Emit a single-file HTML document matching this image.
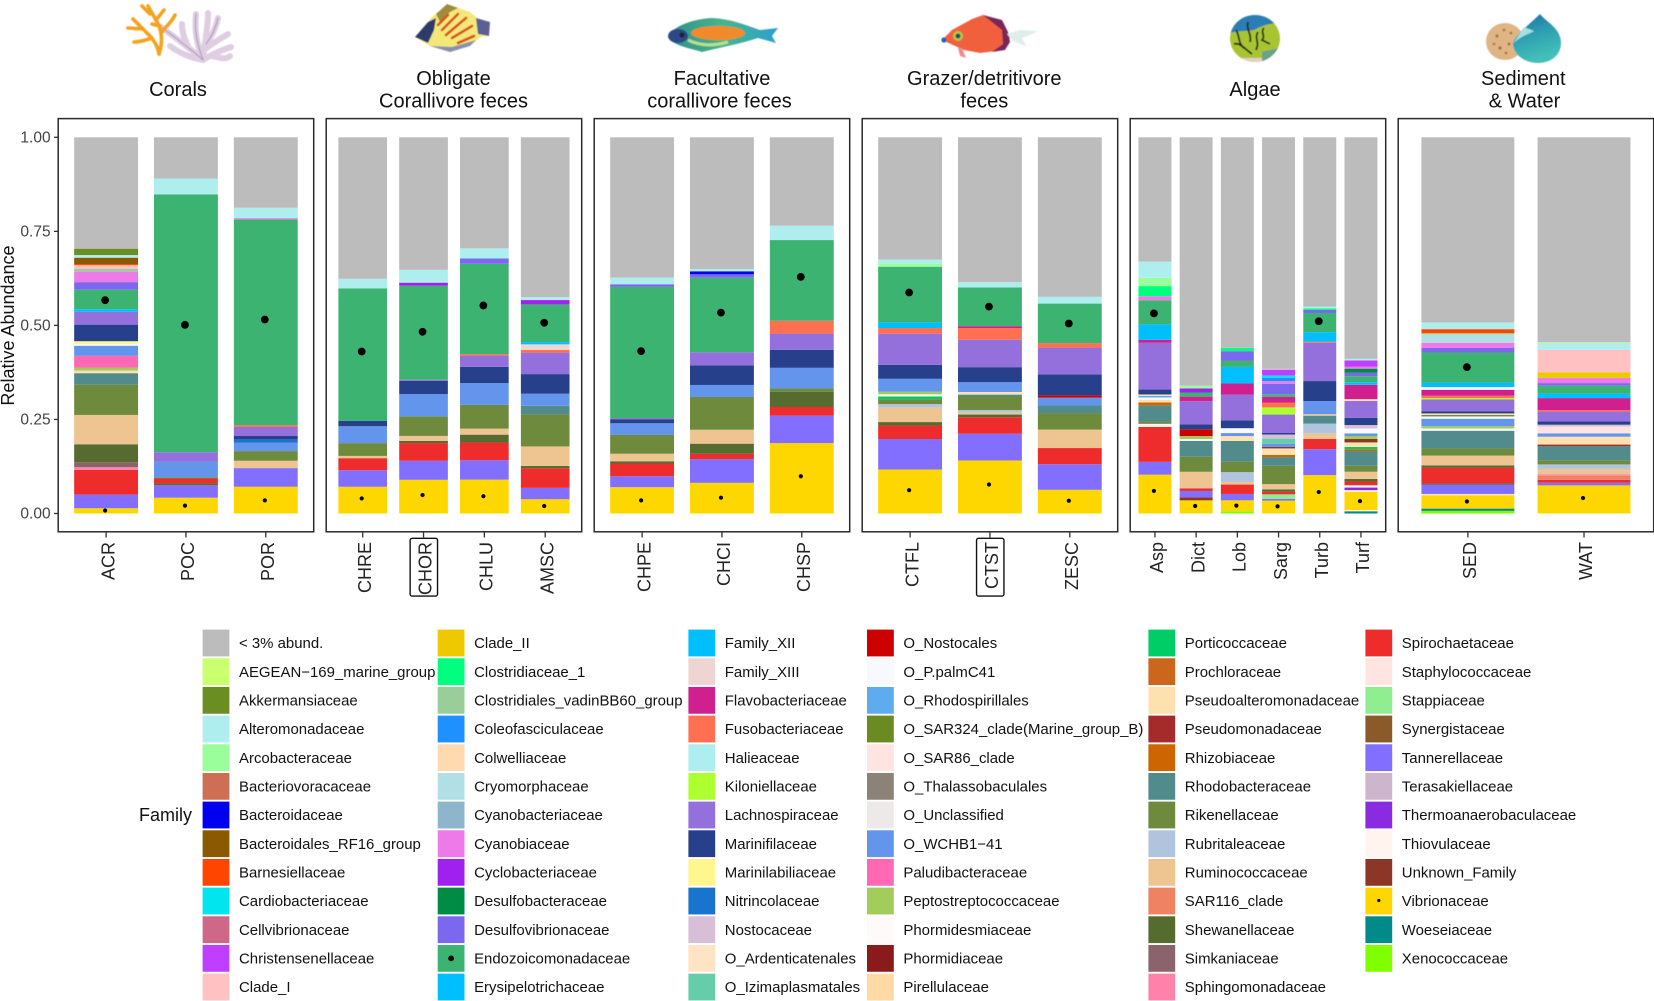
<!DOCTYPE html>
<html lang="en">
<head>
<meta charset="utf-8">
<title>Relative abundance of bacterial families</title>
<style>
html,body{margin:0;padding:0;background:#fff;}
svg{display:block;font-family:"Liberation Sans",Arial,sans-serif;}
</style>
</head>
<body>
<svg id="chart" xmlns="http://www.w3.org/2000/svg" width="1654" height="1001" viewBox="0 0 1654 1001">
<defs>
<linearGradient id="waterGrad" x1="0" y1="0" x2="0.3" y2="1"><stop offset="0" stop-color="#1c6aa6"/><stop offset="0.45" stop-color="#2b9cb0"/><stop offset="1" stop-color="#43c1b8"/></linearGradient>
<linearGradient id="parrotGrad" x1="0" y1="0" x2="1" y2="0"><stop offset="0" stop-color="#2f8f8a"/><stop offset="0.5" stop-color="#49b48c"/><stop offset="1" stop-color="#2aa0d0"/></linearGradient>
<filter id="soft"><feGaussianBlur stdDeviation="0.6"/></filter>
<clipPath id="algaeClip"><ellipse cx="1255" cy="38.5" rx="25" ry="23.5"/></clipPath>
</defs>

<g filter="url(#soft)" fill="none" stroke-linecap="round">
  <g stroke="#dfcde2" stroke-width="6">
    <path d="M203 60C198 46 194 34 196 14"/>
    <path d="M203 60C204 44 208 30 208 13"/>
    <path d="M203 60C192 50 176 38 161 27"/>
    <path d="M203 60C212 54 222 50 231 47"/>
    <path d="M206 44C212 36 216 28 218 18"/>
    <path d="M203 60C190 58 178 52 170 46"/>
    <path d="M204 50C214 42 222 38 228 34"/>
    <path d="M188 46C184 38 182 32 182 24"/>
    <path d="M212 56C220 58 226 60 230 56"/>
  </g>
  <g stroke="#a993b5" stroke-width="1">
    <path d="M203 60C198 46 194 34 196 14"/>
    <path d="M203 60C192 50 176 38 161 27"/>
    <path d="M206 44C212 36 216 28 218 18"/>
  </g>
  <g stroke="#f4a21e" stroke-width="3.6">
    <path d="M159 54C157 42 150 36 143 29L128 28"/>
    <path d="M143 29L133 19"/>
    <path d="M159 54C163 42 162 30 156 20L148 6"/>
    <path d="M156 20L164 10"/>
    <path d="M162 32C166 26 172 22 175 15"/>
    <path d="M152 38C146 40 140 42 134 42"/>
    <path d="M150 14L142 6"/>
    <path d="M160 26L152 24"/>
  </g>
</g>

<g filter="url(#soft)">
  <path d="M415 37L432 17L447 5L456 7L470 12L484 24L490 22L489 36L482 36L470 46L450 52L430 46Z" fill="#f3e878"/>
  <path d="M415 37L428 22L436 18L434 30L428 43Z" fill="#2d3a6a"/>
  <path d="M436 14L447 4L458 8L450 12L440 22Z" fill="#a08c3e"/>
  <path d="M476 18L490 22L489 36L478 34Z" fill="#5a6096"/>
  <path d="M430 46L450 52L470 46L476 40L452 47Z" fill="#8a8fb0"/>
  <g stroke="#d8501c" stroke-width="2.6" fill="none" stroke-linecap="round">
    <path d="M442 30L458 14"/><path d="M446 35L466 18"/><path d="M452 38L472 26"/><path d="M458 43L474 36"/><path d="M438 25L448 15"/>
  </g>
</g>

<g filter="url(#soft)">
  <path d="M668 36C672 28 690 19 712 18C732 19 748 26 760 30L778 28L772 36L776 43L758 38C740 44 722 47 702 52C690 48 672 46 668 36Z" fill="url(#parrotGrad)"/>
  <ellipse cx="718" cy="33" rx="27" ry="7" fill="#f28a2c"/>
  <ellipse cx="678" cy="36" rx="10" ry="7" fill="#2c4a86"/>
  <circle cx="682" cy="35" r="2.5" fill="#222"/>
  <path d="M688 40C700 46 714 46 728 42" stroke="#b7e08c" stroke-width="3" fill="none"/>
</g>

<g filter="url(#soft)">
  <path d="M942 40L952 30L972 19L983 15L1004 24L1010 38L1004 50L980 53L964 50Z" fill="#f0613c"/>
  <path d="M983 15L1002 20L1008 32L1010 42L1005 50L992 52L1003 44L1002 30Z" fill="#7a2858"/>
  <path d="M1007 34L1020 30L1038 31L1030 35L1022 38L1026 46L1020 44L1012 40Z" fill="#dfeee8"/>
  <circle cx="958" cy="36" r="5" fill="#b8c43a"/>
  <circle cx="958" cy="36" r="2.4" fill="#124a70"/>
  <path d="M962 48L966 58L960 56L958 48Z" fill="#e9908e"/>
  <circle cx="944" cy="40" r="2.6" fill="#1d63b0"/>
</g>

<g filter="url(#soft)">
  <g clip-path="url(#algaeClip)">
    <rect x="1228" y="14" width="54" height="50" fill="#a9c433"/>
    <path d="M1228 14H1282V24C1270 22 1262 26 1254 30C1244 32 1236 30 1228 34Z" fill="#2b7eb5"/>
    <path d="M1262 52C1266 50 1276 50 1282 46V64H1262Z" fill="#6ba38a"/>
    <path d="M1240 58H1262V64H1240Z" fill="#e4cfc8"/>
    <g stroke="#23281c" stroke-width="1.8" fill="none">
      <path d="M1236 30C1240 36 1238 44 1244 48"/>
      <path d="M1248 22C1246 30 1252 34 1250 42"/>
      <path d="M1258 32C1254 38 1260 42 1256 50"/>
      <path d="M1264 28C1260 32 1266 36 1262 40L1270 44"/>
      <path d="M1234 44C1240 42 1246 50 1252 54"/>
    </g>
  </g>
</g>

<g filter="url(#soft)">
  <ellipse cx="1505" cy="41.5" rx="19" ry="18.5" fill="#deb583"/>
  <g fill="#a9763d">
    <circle cx="1497" cy="36" r="1.6"/><circle cx="1504" cy="30" r="1.4"/><circle cx="1500" cy="48" r="1.7"/><circle cx="1509" cy="44" r="1.5"/><circle cx="1494" cy="44" r="1.3"/><circle cx="1511" cy="33" r="1.4"/><circle cx="1506" cy="53" r="1.4"/>
  </g>
  <path d="M1540 14C1546 22 1561 28 1561 43C1561 55 1551 63 1538 63C1524 63 1513 54 1513 43C1516 34 1530 24 1540 14Z" fill="url(#waterGrad)"/>
  <path d="M1513 44C1520 36 1530 34 1534 31L1524 27L1518 36Z" fill="#a3e0e2"/>
</g>

<g font-size="20" fill="#111" text-anchor="middle" dominant-baseline="central">
  <text x="178" y="90">Corals</text>
  <text x="453.5" y="79">Obligate</text>
  <text x="453.5" y="101.7">Corallivore feces</text>
  <text x="722" y="79">Facultative</text>
  <text x="719.5" y="101.7">corallivore feces</text>
  <text x="984.3" y="79">Grazer/detritivore</text>
  <text x="984.3" y="101.7">feces</text>
  <text x="1255" y="90">Algae</text>
  <text x="1523.3" y="79">Sediment</text>
  <text x="1524.5" y="101.7">&amp; Water</text>
</g>

<text x="14" y="325.5" font-size="18" fill="#111" text-anchor="middle" transform="rotate(-90 14 325.5)">Relative Abundance</text>
<text x="139" y="815" font-size="18" fill="#111" dominant-baseline="central">Family</text>

<g id="plot"></g>
<g id="legend"></g>
</svg>

<script>
// ---------- legend categories ----------
const familyNames = ["< 3% abund.","AEGEAN\u2212169_marine_group","Akkermansiaceae","Alteromonadaceae","Arcobacteraceae","Bacteriovoracaceae","Bacteroidaceae","Bacteroidales_RF16_group","Barnesiellaceae","Cardiobacteriaceae","Cellvibrionaceae","Christensenellaceae","Clade_I",
"Clade_II","Clostridiaceae_1","Clostridiales_vadinBB60_group","Coleofasciculaceae","Colwelliaceae","Cryomorphaceae","Cyanobacteriaceae","Cyanobiaceae","Cyclobacteriaceae","Desulfobacteraceae","Desulfovibrionaceae","Endozoicomonadaceae","Erysipelotrichaceae",
"Family_XII","Family_XIII","Flavobacteriaceae","Fusobacteriaceae","Halieaceae","Kiloniellaceae","Lachnospiraceae","Marinifilaceae","Marinilabiliaceae","Nitrincolaceae","Nostocaceae","O_Ardenticatenales","O_Izimaplasmatales",
"O_Nostocales","O_P.palmC41","O_Rhodospirillales","O_SAR324_clade(Marine_group_B)","O_SAR86_clade","O_Thalassobaculales","O_Unclassified","O_WCHB1\u221241","Paludibacteraceae","Peptostreptococcaceae","Phormidesmiaceae","Phormidiaceae","Pirellulaceae",
"Porticoccaceae","Prochloraceae","Pseudoalteromonadaceae","Pseudomonadaceae","Rhizobiaceae","Rhodobacteraceae","Rikenellaceae","Rubritaleaceae","Ruminococcaceae","SAR116_clade","Shewanellaceae","Simkaniaceae","Sphingomonadaceae",
"Spirochaetaceae","Staphylococcaceae","Stappiaceae","Synergistaceae","Tannerellaceae","Terasakiellaceae","Thermoanaerobaculaceae","Thiovulaceae","Unknown_Family","Vibrionaceae","Woeseiaceae","Xenococcaceae"];

const familyCodes = ["lt3","aeg","akk","alt","arc","bvo","bac","brf","bar","car","cel","chr","cl1",
"cl2","cst","cvd","cof","col","cry","cyb","cyn","cyc","dbc","dvb","end","ery",
"fx2","fx3","fla","fus","hal","kil","lac","mfl","mlb","nit","nos","oar","oiz",
"ono","opa","orh","o32","o86","oth","oun","owc","pal","pep","phd","phm","pir",
"por","prc","pse","pmo","rhi","rho","rik","rub","rum","s11","she","sim","sph",
"spi","sta","stp","syn","tan","ter","the","thi","unk","vib","woe","xen"];

const familyColors = ["#BCBCBC","#CAFF70","#6B8E23","#AEEEEE","#9AFF9A","#CD6F55","#0000EE","#8B5A00","#FF4500","#00E5EE","#CD6889","#BF3EFF","#FFC1C1",
"#EEC900","#00FF7F","#9BCD9B","#1E90FF","#FFDAB0","#B0E0E6","#8DB6CD","#EE7AE9","#A020F0","#008B45","#7B68EE","#3CB371","#00BFFF",
"#00BFFF","#EED5D2","#D02090","#FF6F50","#AEEEEE","#ADFF2F","#9370DB","#27408B","#FFF68F","#1874CD","#D8BFD8","#FFE4C4","#66CDAA",
"#CD0000","#F8F8FF","#5CACEE","#698B22","#FFE4E1","#8B8378","#EEE9E9","#6495ED","#FF69B4","#A2CD5A","#FFFAFA","#8B1A1A","#FFDAA5",
"#00CD66","#CD661D","#FFE1B0","#A52A2A","#CD6600","#528B8B","#6E8B3D","#B0C4DE","#EEC591","#EE8262","#556B2F","#8B636C","#FF82AB",
"#EE2C2C","#FFE4E1","#90EE90","#8B5A2B","#836FFF","#CDB5CD","#8A2BE2","#FFF5EE","#8B3626","#FFD700","#008B8B","#7FFF00"];

// ---------- axis ----------
const yTickValues = [0, 0.25, 0.5, 0.75, 1];
const yTickLabels = ["0.00","0.25","0.50","0.75","1.00"];
const panelSamples = [
  ["ACR","POC","POR"],
  ["CHRE","CHOR","CHLU","AMSC"],
  ["CHPE","CHCI","CHSP"],
  ["CTFL","CTST","ZESC"],
  ["Asp","Dict","Lob","Sarg","Turb","Turf"],
  ["SED","WAT"]
];
const boxedSamples = ["CHOR","CTST"];

// ---------- point overlays (mean abundance markers) ----------
const endoPointSamples = ["ACR","POC","POR","CHRE","CHOR","CHLU","AMSC","CHPE","CHCI","CHSP","CTFL","CTST","ZESC","Asp","Turb","SED"];
const endoPointValues = [.567,.5015,.5156,.4306,.483,.553,.507,.4315,.534,.629,.5875,.55,.505,.532,.511,.389];
const vibPointSamples = ["ACR","POC","POR","CHRE","CHOR","CHLU","AMSC","CHPE","CHCI","CHSP","CTFL","CTST","ZESC","Asp","Dict","Lob","Sarg","Turb","Turf","SED","WAT"];
const vibPointValues = [.008,.021,.035,.04,.049,.046,.02,.035,.042,.099,.062,.077,.034,.06,.02,.021,.019,.057,.033,.032,.041];

// ---------- stacked values, bottom to top: [family code, relative abundance] ----------
const ACR = [["vib",.014],["tan",.036],["spi",.066],["sph",.007],["sim",.013],["she",.048],["rum",.078],["rik",.080],["rho",.031],["pse",.007],["pep",.008],["pal",.031],["owc",.027],["opa",.004],["mlb",.008],["mfl",.044],["lac",.034],["fx2",.007],["end",.052],["dvb",.020],["cyn",.028],["cvd",.007],["cl1",.010],["bar",.003],["brf",.017],["alt",.007],["akk",.017],["lt3",.296]];
const POC = [["vib",.042],["tan",.033],["she",.005],["spi",.013],["rik",.003],["owc",.042],["lac",.025],["end",.685],["alt",.0425],["lt3",.1095]];
const POR = [["vib",.071],["tan",.0495],["rum",.0195],["rik",.0257],["owc",.022],["nit",.009],["mfl",.009],["lac",.024],["fus",.005],["end",.546],["cyn",.0035],["alt",.0275],["lt3",.187]];
const CHRE = [["vib",.071],["tan",.044],["spi",.032],["rum",.006],["rik",.034],["owc",.045],["mfl",.014],["end",.352],["alt",.0257],["lt3",.376]];
const CHOR = [["vib",.0895],["tan",.0505],["spi",.047],["she",.006],["rum",.013],["rik",.052],["owc",.059],["mfl",.035],["lac",.003],["end",.25],["cyc",.008],["alt",.034],["lt3",.352]];
const CHLU = [["vib",.09],["tan",.0515],["spi",.047],["she",.021],["rum",.016],["rik",.063],["owc",.058],["mfl",.043],["lac",.030],["fus",.004],["end",.24],["dvb",.014],["alt",.027],["lt3",.295]];
const AMSC = [["vib",.038],["tan",.030],["spi",.052],["she",.006],["rum",.052],["rik",.085],["rho",.023],["owc",.032],["mfl",.052],["lac",.057],["fus",.007],["fx3",.015],["fx2",.006],["end",.100],["cyc",.0115],["alt",.008],["lt3",.424]];
const CHPE = [["vib",.07],["tan",.029],["spi",.034],["she",.006],["rum",.020],["rik",.050],["owc",.031],["mfl",.011],["lac",.003],["end",.349],["dvb",.007],["alt",.018],["lt3",.373]];
const CHCI = [["vib",.0815],["tan",.063],["spi",.014],["she",.027],["rum",.037],["rik",.087],["owc",.032],["mfl",.052],["lac",.035],["end",.198],["dvb",.009],["bac",.008],["alt",.006],["lt3",.35]];
const CHSP = [["vib",.187],["tan",.073],["spi",.023],["she",.040],["rik",.009],["owc",.055],["mfl",.048],["lac",.043],["fus",.034],["end",.2145],["alt",.038],["lt3",.235]];
const CTFL = [["vib",.117],["tan",.081],["spi",.036],["she",.009],["rum",.039],["rub",.009],["rik",.013],["por",.007],["thi",.006],["pep",.007],["owc",.034],["mfl",.037],["lac",.083],["fus",.015],["fx2",.015],["end",.148],["arc",.009],["alt",.01],["lt3",.325]];
const CTST = [["vib",.141],["tan",.071],["spi",.044],["she",.007],["rum",.005],["rub",.007],["rik",.036],["rho",.005],["pse",.007],["owc",.026],["mfl",.040],["lac",.073],["fus",.031],["fla",.005],["end",.103],["alt",.014],["lt3",.385]];
const ZESC = [["vib",.063],["tan",.068],["spi",.043],["rum",.049],["rik",.044],["rho",.020],["owc",.021],["ono",.006],["mfl",.056],["lac",.071],["fus",.012],["end",.105],["alt",.018],["lt3",.424]];
const Asp = [["vib",.103],["tan",.034],["spi",.093],["thi",.008],["rik",.006],["rho",.043],["rhi",.008],["pse",.007],["opa",.006],["orh",.004],["pse",.004],["mfl",.013],["lac",.124],["fla",.008],["ery",.041],["end",.064],["cyn",.0106],["cst",.027],["arc",.022],["alt",.043],["lt3",.33]];
const Dict = [["vib",.035],["unk",.008],["tan",.017],["spi",.007],["rum",.044],["rik",.04],["rho",.042],["opa",.005],["pep",.008],["ono",.018],["mfl",.013],["lac",.062],["fla",.012],["end",.011],["cyc",.011],["arc",.007],["lt3",.661]];
const Lob = [["xen",.006],["vib",.029],["tan",.017],["spi",.025],["rum",.007],["rub",.026],["rik",.028],["rho",.055],["pse",.013],["owc",.008],["opa",.013],["mfl",.021],["lac",.068],["fla",.03],["ery",.044],["end",.017],["dvb",.025],["cst",.009],["lt3",.56]];
const Sarg = [["vib",.034],["tan",.005],["stp",.012],["spi",.007],["she",.006],["rum",.014],["rik",.049],["rho",.023],["rhi",.006],["pse",.017],["unk",.004],["owc",.008],["oiz",.014],["nos",.011],["mfl",.004],["lac",.049],["kil",.019],["fus",.013],["fla",.015],["end",.007],["dvb",.028],["cyn",.007],["cof",.009],["car",.006],["chr",.015],["ter",.003],["lt3",.615]];
const Turb = [["vib",.102],["tan",.069],["spi",.027],["rum",.015],["rub",.026],["rho",.021],["rum",.004],["owc",.035],["mfl",.053],["lac",.102],["fus",.003],["ery",.025],["end",.051],["dvb",.008],["cst",.004],["alt",.005],["lt3",.45]];
const Turf = [["woe",.006],["thi",.003],["vib",.049],["thi",.004],["the",.007],["thi",.006],["spi",.01],["she",.007],["rum",.019],["rik",.016],["rho",.039],["rhi",.005],["por",.006],["pse",.012],["unk",.009],["pep",.008],["owc",.007],["opa",.013],["nos",.009],["mfl",.019],["lac",.045],["pse",.005],["fla",.038],["ery",.007],["end",.016],["dvb",.009],["dbc",.011],["cyn",.005],["chr",.017],["alt",.004],["lt3",.589]];
const SED = [["xen",.007],["woe",.006],["vib",.035],["pse",.004],["tan",.025],["she",.003],["spi",.042],["she",.006],["rum",.026],["rik",.019],["rho",.047],["opa",.006],["pep",.006],["owc",.02],["opa",.006],["rik",.004],["pse",.004],["mfl",.006],["lac",.031],["kil",.004],["fus",.006],["fla",.016],["opa",.007],["ery",.012],["end",.08],["dvb",.012],["cyn",.014],["cry",.022],["stp",.003],["bar",.011],["alt",.018],["lt3",.492]];
const WAT = [["vib",.075],["tan",.007],["spi",.008],["s11",.011],["sph",.004],["rum",.014],["rub",.012],["rik",.011],["rho",.038],["pmo",.004],["pse",.021],["owc",.009],["o86",.018],["nos",.005],["mfl",.009],["lac",.026],["fus",.004],["fla",.032],["ery",.012],["end",.021],["dvb",.007],["cyn",.014],["cl2",.015],["cl1",.06],["alt",.018],["aeg",.002],["lt3",.547]];

const sampleStacks = {ACR,POC,POR,CHRE,CHOR,CHLU,AMSC,CHPE,CHCI,CHSP,CTFL,CTST,ZESC,Asp,Dict,Lob,Sarg,Turb,Turf,SED,WAT};

// ---------- axis functions ----------
const SVGNS = 'http://www.w3.org/2000/svg';
function yScale(v) { return 513.5 - v * 376.2; }
function panelLeft(p) { return 58.2 + 268 * p; }
function unitWidth(n) { return 255.5 / (n + 0.2); }
function xCenter(p, i, n) { return panelLeft(p) + unitWidth(n) * (i + 0.6); }
function barWidth(n) { return unitWidth(n) * 0.8; }
function colorOf(code) { return familyColors[familyCodes.indexOf(code)]; }
function make(tag, parent, attrs) {
  const el = document.createElementNS(SVGNS, tag);
  for (const k in attrs) el.setAttribute(k, attrs[k]);
  parent.appendChild(el);
  return el;
}

const plot = document.getElementById('plot');

panelSamples.forEach(function (samples, p) {
  const n = samples.length;
  samples.forEach(function (sample, i) {
    const cx = xCenter(p, i, n);
    const w = barWidth(n);
    const stack = sampleStacks[sample];
    const total = stack.reduce(function (a, s) { return a + s[1]; }, 0);
    const group = make('g', plot, {});
    
    
    let cum = 0;
    stack.forEach(function (seg) {
      const share = seg[1] / total;
      const y0 = yScale(cum);
      const y1 = yScale(cum + share);
      const rect = make('rect', group, { x: cx - w / 2, y: y1, width: w, height: Math.max(0, y0 - y1), fill: colorOf(seg[0]) });
      
      
      cum += share;
    });
    const endoIdx = endoPointSamples.indexOf(sample);
    if (endoIdx >= 0) {
      const dot = make('circle', group, { cx: cx - 1, cy: yScale(endoPointValues[endoIdx]), r: 3.9, fill: '#000' });
      
      
    }
    const vibIdx = vibPointSamples.indexOf(sample);
    if (vibIdx >= 0) {
      const dot = make('circle', group, { cx: cx - 1, cy: yScale(vibPointValues[vibIdx]), r: 2.1, fill: '#000' });
      
      
    }

    const tick = make('line', plot, { x1: cx, x2: cx, y1: 532, y2: 537.5, stroke: '#333', 'stroke-width': 1.3 });
    
    

    const bx = cx + 8.2;
    const label = make('text', plot, { x: bx, y: 542, 'font-size': 18, fill: '#222', 'text-anchor': 'end', transform: 'rotate(-90 ' + bx + ' 542)' });
    label.textContent = sample;
    
    

    if (boxedSamples.indexOf(sample) >= 0) {
      const box = make('rect', plot, { x: cx - 13.4, y: 538.3, width: 27.4, height: 57.8, rx: 2, fill: 'none', stroke: '#111', 'stroke-width': 1.4 });
      
      
    }
  });

  const frame = make('rect', plot, { x: panelLeft(p), y: 118.6, width: 255.5, height: 413.2, fill: 'none', stroke: '#2b2b2b', 'stroke-width': 1.5 });
  
  
});

yTickValues.forEach(function (v, i) {
  const y = yScale(v);
  const tick = make('line', plot, { x1: 54, x2: 58.2, y1: y, y2: y, stroke: '#333', 'stroke-width': 1.3 });
  
  
  const label = make('text', plot, { x: 50.6, y: y + 0.5, 'font-size': 15.5, fill: '#444', 'text-anchor': 'end', 'dominant-baseline': 'central' });
  label.textContent = yTickLabels[i];
  
  
});

// ---------- legend ----------
const legendColumnStarts = [0, 13, 26, 39, 52, 65];
const legend = document.getElementById('legend');
const keyX = [202.6, 437.7, 688.4, 867, 1148.4, 1365.4];
familyNames.forEach(function (name, idx) {
  let col = 0;
  for (let c = 0; c < legendColumnStarts.length; c++) if (idx >= legendColumnStarts[c]) col = c;
  const row = idx - legendColumnStarts[col];
  const yc = 643 + row * 28.67;
  const entry = make('g', legend, {});
  
  
  make('rect', entry, { x: keyX[col], y: yc - 13.4, width: 26.8, height: 26.8, fill: familyColors[idx] });
  if (familyCodes[idx] === 'end') make('circle', entry, { cx: keyX[col] + 13.4, cy: yc, r: 2.9, fill: '#000' });
  if (familyCodes[idx] === 'vib') make('circle', entry, { cx: keyX[col] + 13.4, cy: yc - 0.5, r: 1.6, fill: '#000' });
  const label = make('text', entry, { x: keyX[col] + 36.4, y: yc + 0.6, 'font-size': 14.95, fill: '#111', 'dominant-baseline': 'central' });
  label.textContent = name;
});
</script>
</body>
</html>
